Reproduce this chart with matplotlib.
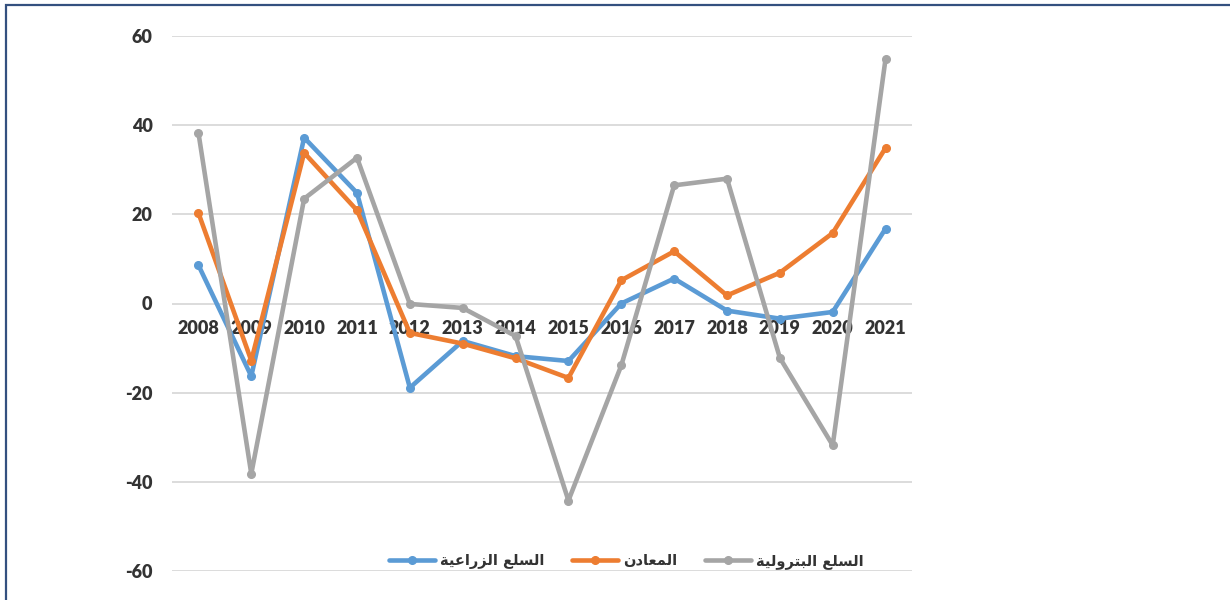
import matplotlib
matplotlib.use('Agg')
import matplotlib.pyplot as plt
import matplotlib.patches as patches

# data (annual change, %)
years = ['2008', '2009', '2010', '2011', '2012', '2013', '2014',
         '2015', '2016', '2017', '2018', '2019', '2020', '2021']
agri = [8.6, -16.3, 37.2, 24.8, -18.9, -8.4, -11.8,
        -12.9, 0.0, 5.6, -1.6, -3.4, -1.9, 16.8]
metals = [20.3, -12.8, 33.8, 20.9, -6.6, -9.0, -12.3,
          -16.7, 5.2, 11.7, 1.8, 6.9, 15.8, 34.9]
oil = [38.3, -38.2, 23.5, 32.7, -0.1, -1.0, -7.3,
       -44.2, -13.9, 26.5, 28.0, -12.2, -31.8, 54.9]
series_names = ['السلع الزراعية', 'المعادن', 'السلع البترولية']
y_ticks = [-60, -40, -20, 0, 20, 40, 60]

colors = ['#5B9BD5', '#ED7D31', '#A5A5A5']

# matplotlib has no Arabic shaping, so pick the presentation forms by hand
# (isolated, final, initial, medial)
FORMS = {
    'ا': ('\uFE8D', '\uFE8E', None, None),
    'ب': ('\uFE8F', '\uFE90', '\uFE91', '\uFE92'),
    'ة': ('\uFE93', '\uFE94', None, None),
    'ت': ('\uFE95', '\uFE96', '\uFE97', '\uFE98'),
    'د': ('\uFEA9', '\uFEAA', None, None),
    'ر': ('\uFEAD', '\uFEAE', None, None),
    'ز': ('\uFEAF', '\uFEB0', None, None),
    'س': ('\uFEB1', '\uFEB2', '\uFEB3', '\uFEB4'),
    'ع': ('\uFEC9', '\uFECA', '\uFECB', '\uFECC'),
    'ل': ('\uFEDD', '\uFEDE', '\uFEDF', '\uFEE0'),
    'م': ('\uFEE1', '\uFEE2', '\uFEE3', '\uFEE4'),
    'ن': ('\uFEE5', '\uFEE6', '\uFEE7', '\uFEE8'),
    'و': ('\uFEED', '\uFEEE', None, None),
    'ي': ('\uFEF1', '\uFEF2', '\uFEF3', '\uFEF4'),
}


def shape_arabic(text):
    out = []
    for i, ch in enumerate(text):
        if ch not in FORMS:
            out.append(ch)
            continue
        prev = text[i - 1] if i > 0 else ''
        nxt = text[i + 1] if i + 1 < len(text) else ''
        iso, fin, ini, med = FORMS[ch]
        join_prev = prev in FORMS and FORMS[prev][2] is not None
        join_next = nxt in FORMS and ini is not None
        if join_prev and join_next:
            out.append(med)
        elif join_prev:
            out.append(fin)
        elif join_next:
            out.append(ini)
        else:
            out.append(iso)
    return ''.join(reversed(out))


fig = plt.figure(figsize=(12.3, 6), dpi=100)
ax = fig.add_axes([172 / 1230, 1 - 571 / 600, 740 / 1230, 535 / 600])

x = list(range(len(years)))
for values, name, c in zip([agri, metals, oil], series_names, colors):
    ax.plot(x, values, color=c, lw=3.3, marker='o', markersize=5.5,
            solid_capstyle='round', label=shape_arabic(name), zorder=3)

ax.set_xlim(-0.5, len(years) - 0.5)
ax.set_ylim(-60, 60)
ax.set_yticks(y_ticks)
ax.set_yticklabels([str(t) for t in y_ticks])
ax.set_xticks(x)
ax.set_xticklabels(years)
ax.grid(axis='y', color='#D9D9D9', lw=1.3)
ax.set_axisbelow(True)

for s in ['top', 'right', 'left']:
    ax.spines[s].set_visible(False)
ax.spines['bottom'].set_position(('data', 0))
ax.spines['bottom'].set_visible(False)

ax.tick_params(axis='both', length=0, labelcolor='#333333')
ax.tick_params(axis='y', pad=14)
ax.tick_params(axis='x', pad=12)
for lab in ax.get_xticklabels() + ax.get_yticklabels():
    lab.set_fontfamily('Lato')
    lab.set_fontweight('heavy')
    lab.set_fontsize(13)

leg = fig.legend(loc='center', bbox_to_anchor=(626 / 1230, 1 - 561 / 600),
                 ncol=3, frameon=False, handlelength=3.2, handletextpad=0.3,
                 columnspacing=1.9, prop={'family': 'DejaVu Sans', 'weight': 'bold', 'size': 10.5})
for t in leg.get_texts():
    t.set_color('#333333')

# chart frame (only top and left edges show in the crop)
frame = patches.Rectangle((6 / 1230, -0.1), 1.2, 1.1 - 4.5 / 600,
                          transform=fig.transFigure, fill=False,
                          edgecolor='#34507F', lw=1.6)
fig.patches.append(frame)

fig.savefig('out.png', dpi=100)
